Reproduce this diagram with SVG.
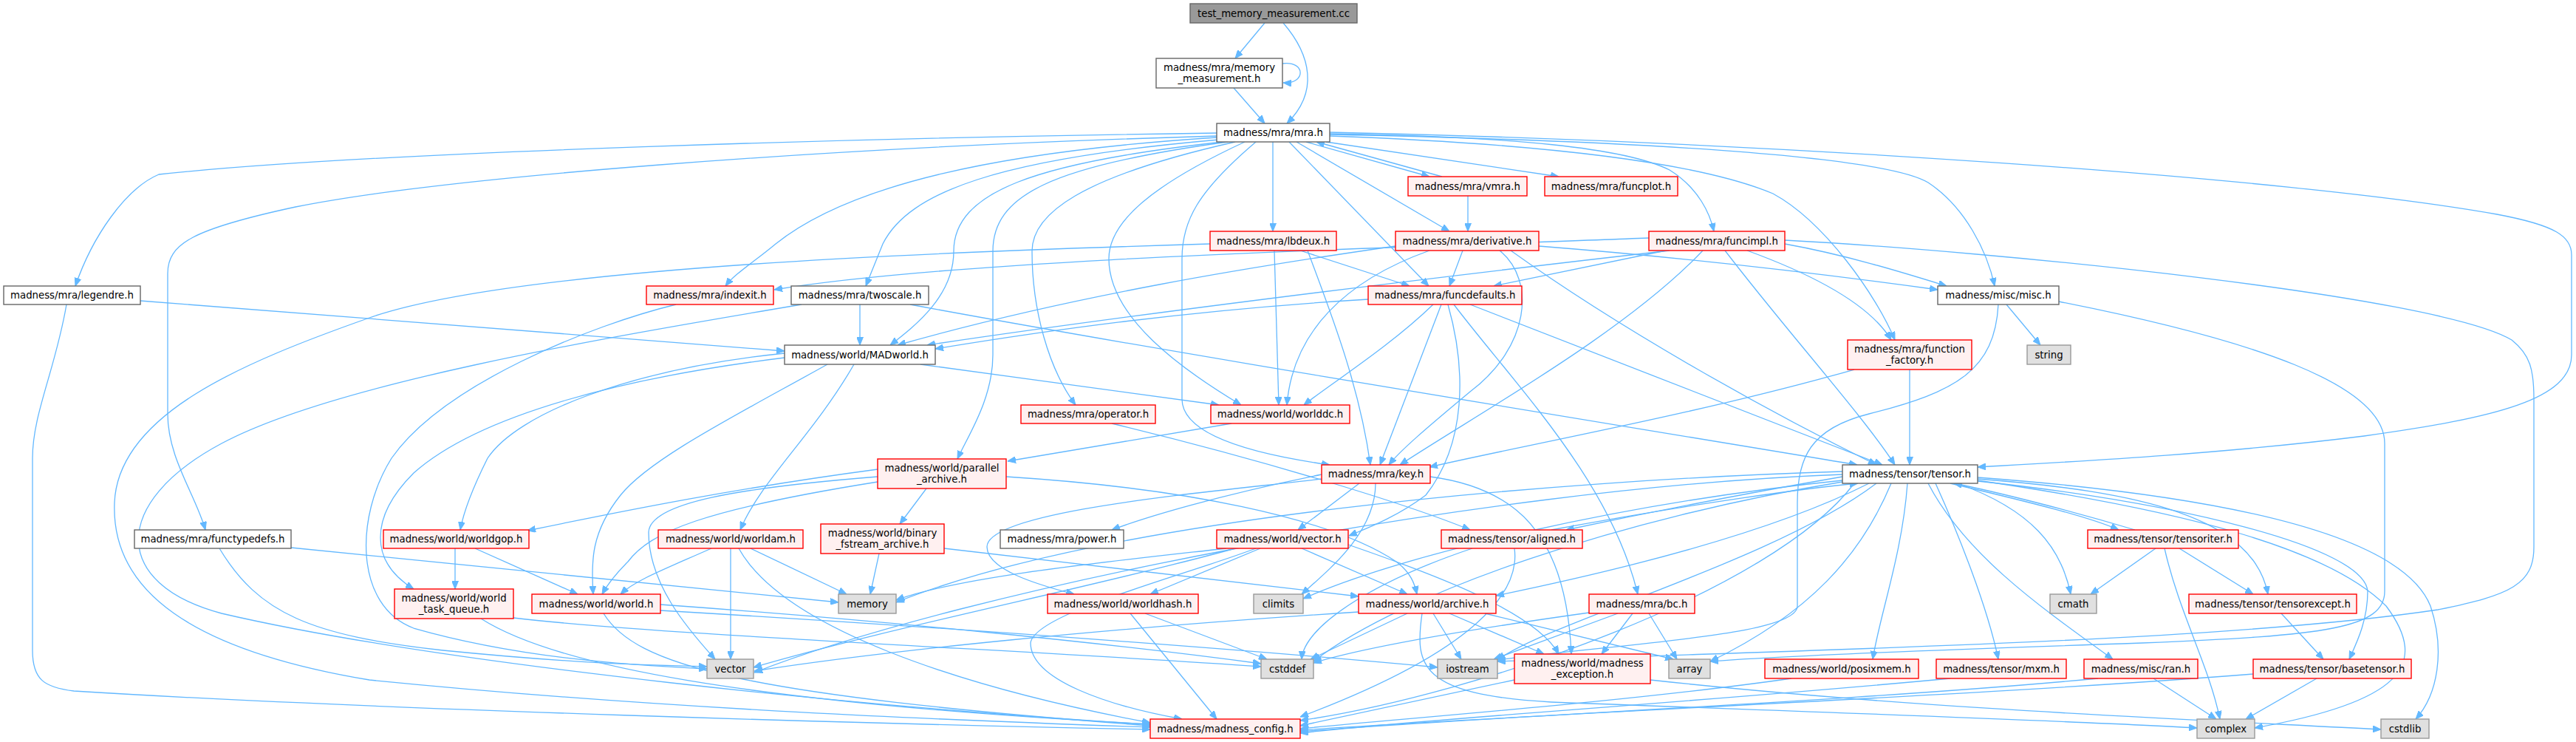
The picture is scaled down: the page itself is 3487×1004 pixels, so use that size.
<svg xmlns="http://www.w3.org/2000/svg" width="3487" height="1004" viewBox="0 0 3487 1004">
<style>
text{font-family:"DejaVu Sans","Liberation Sans",sans-serif;font-size:13.3px;fill:#000;text-anchor:middle}
.n{fill:#fff;stroke:#666;stroke-width:1.4}
.r{fill:#fff0f0;stroke:#f00;stroke-width:1.4}
.g{fill:#e0e0e0;stroke:#999;stroke-width:1.4}
.root{fill:#999;stroke:#666;stroke-width:1.4}
#edges path{fill:none;stroke:#63b8ff;stroke-width:1.3;marker-end:url(#a)}
</style>
<defs>
<marker id="a" markerWidth="11" markerHeight="9" refX="11" refY="4.5" orient="auto" markerUnits="userSpaceOnUse"><path d="M0,0 L11,4.5 L0,9 z" fill="#63b8ff" stroke="#63b8ff" stroke-width="1"/></marker>
</defs>
<rect x="0" y="0" width="3487" height="1004" fill="#fff"/>
<g id="edges">
<path d="M1712,31 L1672,79"/>
<path d="M1737,31 C1775,75 1785,125 1742,167"/>
<path d="M1736,86 C1768,82 1768,114 1737,112"/>
<path d="M1670,119 L1712,167"/>
<path d="M1647,180 C1200,186 500,205 215,236 C170,255 125,320 102,387"/>
<path d="M1647,184 C1100,200 600,240 400,280 C260,310 227,330 227,370 L227,560 C227,620 265,670 278,717"/>
<path d="M1647,186 C1350,205 1150,250 1050,330 C1020,355 995,370 982,387"/>
<path d="M1650,189 C1350,215 1230,260 1195,330 L1172,387"/>
<path d="M1655,192 C1400,220 1291,260 1291,340 C1291,400 1240,440 1205,467"/>
<path d="M1662,192 C1420,225 1344,265 1344,340 L1344,480 C1344,540 1310,590 1296,621"/>
<path d="M1672,192 C1460,240 1397,290 1397,340 C1397,420 1420,500 1456,548"/>
<path d="M1685,192 C1560,250 1501,300 1501,350 C1501,430 1600,500 1680,548"/>
<path d="M1700,192 C1620,260 1600,300 1600,350 L1600,540 C1600,590 1700,615 1800,629"/>
<path d="M1723,192 L1723,313"/>
<path d="M1745,192 L1934,387"/>
<path d="M1755,192 L1962,313"/>
<path d="M1768,192 L1935,239"/>
<path d="M1952,239 L1782,192"/>
<path d="M1795,192 L2110,239"/>
<path d="M1800,181 C2050,185 2200,200 2260,230 C2300,255 2315,290 2320,313"/>
<path d="M1800,184 C2100,195 2300,220 2400,262 C2470,300 2540,400 2565,460"/>
<path d="M1800,182 C2200,190 2550,210 2610,247 C2660,280 2690,340 2700,387"/>
<path d="M1800,179 C2400,192 3100,240 3380,290 C3460,305 3481,320 3481,345 L3481,480 C3481,540 3380,565 3200,590 C3000,615 2800,625 2677,632"/>
<path d="M1987,265 L1987,313"/>
<path d="M1638,330 C1300,340 700,360 500,430 C330,490 160,560 155,680 C150,800 260,880 500,920 C900,960 1300,975 1557,984"/>
<path d="M1760,339 L1908,387"/>
<path d="M1725,339 L1731,548"/>
<path d="M1770,339 C1800,420 1840,520 1855,629"/>
<path d="M1889,333 C1700,360 1450,400 1215,467"/>
<path d="M1980,339 L1962,387"/>
<path d="M1935,339 C1820,380 1750,450 1742,548"/>
<path d="M2030,339 C2080,380 2070,470 1990,530 C1930,580 1895,610 1880,629"/>
<path d="M2045,339 C2200,450 2400,560 2540,629"/>
<path d="M2083,333 C2300,350 2500,375 2623,392"/>
<path d="M2232,322 C1900,335 1300,350 1048,392"/>
<path d="M2260,339 C1900,380 1500,430 1255,467"/>
<path d="M2255,339 L2022,387"/>
<path d="M2305,339 C2200,450 2000,560 1895,629"/>
<path d="M2365,339 C2450,370 2530,410 2560,460"/>
<path d="M2335,339 C2420,450 2520,560 2565,629"/>
<path d="M2416,330 C2500,345 2580,370 2635,387"/>
<path d="M2416,325 C2700,340 3300,400 3400,460 C3425,480 3430,500 3430,540 L3430,740 C3430,790 3400,805 3300,825 C3000,870 2400,880 2027,895"/>
<path d="M2510,500 C2300,560 2050,605 1935,632"/>
<path d="M2585,500 L2585,629"/>
<path d="M2716,412 L2762,467"/>
<path d="M2705,412 C2700,500 2650,530 2530,560 C2450,580 2433,620 2433,680 L2433,820 C2433,860 2200,870 2027,893"/>
<path d="M2787,408 C3050,460 3228,520 3228,600 L3228,800 C3228,850 3150,860 2900,870 C2600,880 2400,888 2315,895"/>
<path d="M1852,405 C1600,420 1400,450 1266,472"/>
<path d="M1940,412 C1880,470 1800,520 1765,548"/>
<path d="M1951,412 L1868,629"/>
<path d="M1960,412 C1985,500 1985,600 1930,670 C1890,700 1850,715 1826,725"/>
<path d="M1968,412 C2050,520 2180,650 2217,804"/>
<path d="M1990,412 L2548,629"/>
<path d="M1164,412 L1164,467"/>
<path d="M1232,412 C1600,480 2100,560 2514,629"/>
<path d="M1085,412 C800,460 450,520 300,600 C150,680 150,790 300,830 C600,900 1200,960 1557,980"/>
<path d="M915,412 C800,440 600,520 530,620 C480,700 480,820 560,850 C700,890 850,900 957,905"/>
<path d="M1062,478 C850,500 700,560 660,620 C640,660 628,690 623,717"/>
<path d="M1062,484 C850,510 650,560 560,640 C500,700 500,760 560,797"/>
<path d="M1120,493 C1000,560 880,620 840,670 C800,720 800,760 803,804"/>
<path d="M1156,493 C1100,590 1030,650 1002,717"/>
<path d="M1246,493 L1650,548"/>
<path d="M190,407 L1062,475"/>
<path d="M90,412 C75,500 44,560 44,620 L44,880 C44,920 60,930 100,935 C500,960 1200,980 1557,987"/>
<path d="M394,741 L1135,815"/>
<path d="M297,742 C350,830 420,860 600,880 C800,900 900,900 957,902"/>
<path d="M1188,645 C1000,660 880,680 878,720 C878,790 930,850 968,892"/>
<path d="M1188,635 C1000,660 850,690 714,718"/>
<path d="M1188,652 C950,690 880,720 850,760 C830,780 820,795 815,804"/>
<path d="M1254,661 L1218,709"/>
<path d="M1362,645 C1600,660 1800,700 1890,760 C1910,775 1915,790 1918,804"/>
<path d="M1667,573 L1364,624"/>
<path d="M1505,573 C1700,620 1900,680 1990,717"/>
<path d="M1789,642 C1650,670 1550,700 1505,717"/>
<path d="M1789,648 C1650,665 1336,690 1336,740 C1336,770 1400,790 1454,804"/>
<path d="M1840,654 L1757,717"/>
<path d="M1862,654 C1862,720 1800,770 1762,804"/>
<path d="M1936,645 C2050,660 2120,720 2127,885"/>
<path d="M616,742 L616,797"/>
<path d="M643,742 L782,804"/>
<path d="M651,837 C750,900 1000,950 1557,980"/>
<path d="M695,836 C900,860 1400,880 1707,902"/>
<path d="M817,830 C860,900 1000,940 1557,982"/>
<path d="M894,818 C1200,840 1500,870 1707,898"/>
<path d="M894,826 C1300,850 1700,880 1946,903"/>
<path d="M1016,742 L1146,804"/>
<path d="M989,742 L989,892"/>
<path d="M963,742 C900,770 860,785 840,804"/>
<path d="M1000,742 C1060,850 1300,930 1557,978"/>
<path d="M1190,749 L1178,804"/>
<path d="M1278,742 L1839,807"/>
<path d="M1530,830 L1647,973"/>
<path d="M1550,830 L1715,892"/>
<path d="M1672,742 C1500,790 1200,850 1020,903"/>
<path d="M1660,742 C1500,760 1300,780 1213,812"/>
<path d="M1706,742 L1557,804"/>
<path d="M1762,742 L1905,804"/>
<path d="M1700,742 C1600,780 1400,830 1395,870 C1395,920 1500,955 1600,973"/>
<path d="M1825,737 C1950,780 2080,830 2110,885"/>
<path d="M2050,742 C2058,800 2000,880 1760,970"/>
<path d="M1993,742 C1850,790 1765,850 1762,892"/>
<path d="M2100,717 C2300,680 2450,660 2515,654"/>
<path d="M2494,645 C2350,670 2200,700 2120,717"/>
<path d="M1839,828 C1500,850 1200,880 1021,908"/>
<path d="M1905,830 L1774,892"/>
<path d="M1925,830 C1915,900 1920,940 2100,950 C2500,965 2800,975 2974,985"/>
<path d="M1940,830 L1978,892"/>
<path d="M1962,830 L2090,885"/>
<path d="M2010,830 L2265,892"/>
<path d="M2158,828 C2000,850 1850,875 1778,897"/>
<path d="M2190,830 L2022,892"/>
<path d="M2210,830 L2168,885"/>
<path d="M2232,830 L2270,892"/>
<path d="M2050,920 L1760,982"/>
<path d="M2234,920 C2600,960 3000,975 3223,987"/>
<path d="M2425,918 C2200,950 1900,972 1760,986"/>
<path d="M2640,654 C2750,680 2830,700 2868,717"/>
<path d="M2890,717 C2800,690 2700,665 2645,654"/>
<path d="M2650,654 C2750,690 2790,740 2803,804"/>
<path d="M2677,648 C2900,665 3050,700 3070,804"/>
<path d="M2677,651 C2950,680 3200,740 3205,800 C3205,840 3190,870 3180,892"/>
<path d="M2677,646 C3000,670 3250,720 3290,820 C3310,880 3300,940 3270,973"/>
<path d="M2677,650 C2950,690 3150,740 3230,820 C3290,900 3250,950 3052,985"/>
<path d="M2620,654 C2650,720 2690,820 2705,892"/>
<path d="M2610,654 C2660,750 2760,820 2860,892"/>
<path d="M2582,654 C2575,750 2545,830 2535,892"/>
<path d="M2560,654 C2520,750 2450,830 2315,895"/>
<path d="M2530,654 C2400,720 2200,770 2025,806"/>
<path d="M2510,654 C2400,800 2000,940 1760,975"/>
<path d="M2494,642 C2000,660 1300,800 1021,910"/>
<path d="M2494,638 C2100,650 1500,700 1213,815"/>
<path d="M2494,650 C2200,680 1900,750 1764,810"/>
<path d="M2494,652 C2200,700 1900,800 1778,895"/>
<path d="M2540,654 C2400,760 2100,840 2027,893"/>
<path d="M2918,742 L2830,804"/>
<path d="M2950,742 L3050,804"/>
<path d="M2930,742 C2950,830 2990,900 3005,973"/>
<path d="M3088,830 L3145,892"/>
<path d="M3136,918 L3040,973"/>
<path d="M3050,912 C2700,940 2100,965 1760,988"/>
<path d="M2915,918 L3000,973"/>
<path d="M2840,918 C2500,950 2000,970 1760,990"/>
<path d="M2640,918 C2300,950 1900,975 1760,992"/>
</g>
<g id="n_test"><rect class="root" x="1611" y="5" width="226" height="26"/><text x="1724" y="22.5">test_memory_measurement.cc</text></g>
<g id="n_memmeas"><rect class="n" x="1565" y="79" width="171" height="40"/><text x="1650.5" y="96">madness/mra/memory</text><text x="1650.5" y="111">_measurement.h</text></g>
<g id="n_mra"><rect class="n" x="1647" y="167" width="153" height="25"/><text x="1723.5" y="184">madness/mra/mra.h</text></g>
<g id="n_vmra"><rect class="r" x="1906" y="239" width="161" height="26"/><text x="1986.5" y="256.5">madness/mra/vmra.h</text></g>
<g id="n_funcplot"><rect class="r" x="2091" y="239" width="180" height="26"/><text x="2181" y="256.5">madness/mra/funcplot.h</text></g>
<g id="n_lbdeux"><rect class="r" x="1638" y="313" width="171" height="26"/><text x="1723.5" y="330.5">madness/mra/lbdeux.h</text></g>
<g id="n_derivative"><rect class="r" x="1889" y="313" width="194" height="26"/><text x="1986" y="330.5">madness/mra/derivative.h</text></g>
<g id="n_funcimpl"><rect class="r" x="2232" y="313" width="184" height="26"/><text x="2324" y="330.5">madness/mra/funcimpl.h</text></g>
<g id="n_legendre"><rect class="n" x="5" y="387" width="185" height="25"/><text x="97.5" y="404">madness/mra/legendre.h</text></g>
<g id="n_indexit"><rect class="r" x="875" y="387" width="172" height="25"/><text x="961" y="404">madness/mra/indexit.h</text></g>
<g id="n_twoscale"><rect class="n" x="1071" y="387" width="186" height="25"/><text x="1164" y="404">madness/mra/twoscale.h</text></g>
<g id="n_funcdefaults"><rect class="r" x="1852" y="387" width="208" height="25"/><text x="1956" y="404">madness/mra/funcdefaults.h</text></g>
<g id="n_misc"><rect class="n" x="2623" y="387" width="164" height="25"/><text x="2705" y="404">madness/misc/misc.h</text></g>
<g id="n_madworld"><rect class="n" x="1062" y="467" width="204" height="26"/><text x="1164" y="484.5">madness/world/MADworld.h</text></g>
<g id="n_string"><rect class="g" x="2744" y="467" width="59" height="26"/><text x="2773.5" y="484.5">string</text></g>
<g id="n_funcfactory"><rect class="r" x="2501" y="460" width="168" height="40"/><text x="2585" y="477">madness/mra/function</text><text x="2585" y="492">_factory.h</text></g>
<g id="n_operator"><rect class="r" x="1382" y="548" width="182" height="25"/><text x="1473" y="565">madness/mra/operator.h</text></g>
<g id="n_worlddc"><rect class="r" x="1639" y="548" width="188" height="25"/><text x="1733" y="565">madness/world/worlddc.h</text></g>
<g id="n_parallel"><rect class="r" x="1188" y="621" width="174" height="40"/><text x="1275" y="638">madness/world/parallel</text><text x="1275" y="653">_archive.h</text></g>
<g id="n_key"><rect class="r" x="1789" y="629" width="147" height="25"/><text x="1862.5" y="646">madness/mra/key.h</text></g>
<g id="n_tensor"><rect class="n" x="2494" y="629" width="183" height="25"/><text x="2585.5" y="646">madness/tensor/tensor.h</text></g>
<g id="n_functypedefs"><rect class="n" x="182" y="717" width="212" height="25"/><text x="288" y="734">madness/mra/functypedefs.h</text></g>
<g id="n_worldgop"><rect class="r" x="519" y="717" width="197" height="25"/><text x="617.5" y="734">madness/world/worldgop.h</text></g>
<g id="n_worldam"><rect class="r" x="891" y="717" width="196" height="25"/><text x="989" y="734">madness/world/worldam.h</text></g>
<g id="n_binary"><rect class="r" x="1111" y="709" width="167" height="40"/><text x="1194.5" y="726">madness/world/binary</text><text x="1194.5" y="741">_fstream_archive.h</text></g>
<g id="n_power"><rect class="n" x="1354" y="717" width="167" height="25"/><text x="1437.5" y="734">madness/mra/power.h</text></g>
<g id="n_vectorh"><rect class="r" x="1647" y="717" width="178" height="25"/><text x="1736" y="734">madness/world/vector.h</text></g>
<g id="n_aligned"><rect class="r" x="1951" y="717" width="191" height="25"/><text x="2046.5" y="734">madness/tensor/aligned.h</text></g>
<g id="n_tensoriter"><rect class="r" x="2826" y="717" width="204" height="25"/><text x="2928" y="734">madness/tensor/tensoriter.h</text></g>
<g id="n_taskq"><rect class="r" x="534" y="797" width="161" height="40"/><text x="614.5" y="814">madness/world/world</text><text x="614.5" y="829">_task_queue.h</text></g>
<g id="n_world"><rect class="r" x="720" y="804" width="174" height="26"/><text x="807" y="821.5">madness/world/world.h</text></g>
<g id="n_memory"><rect class="g" x="1135" y="804" width="78" height="26"/><text x="1174" y="821.5">memory</text></g>
<g id="n_worldhash"><rect class="r" x="1418" y="804" width="204" height="26"/><text x="1520" y="821.5">madness/world/worldhash.h</text></g>
<g id="n_climits"><rect class="g" x="1697" y="804" width="67" height="26"/><text x="1730.5" y="821.5">climits</text></g>
<g id="n_archive"><rect class="r" x="1839" y="804" width="186" height="26"/><text x="1932" y="821.5">madness/world/archive.h</text></g>
<g id="n_bc"><rect class="r" x="2151" y="804" width="143" height="26"/><text x="2222.5" y="821.5">madness/mra/bc.h</text></g>
<g id="n_cmath"><rect class="g" x="2775" y="804" width="63" height="26"/><text x="2806.5" y="821.5">cmath</text></g>
<g id="n_tensorexcept"><rect class="r" x="2963" y="804" width="227" height="26"/><text x="3076.5" y="821.5">madness/tensor/tensorexcept.h</text></g>
<g id="n_vector"><rect class="g" x="957" y="892" width="63" height="26"/><text x="988.5" y="909.5">vector</text></g>
<g id="n_cstddef"><rect class="g" x="1707" y="892" width="71" height="26"/><text x="1742.5" y="909.5">cstddef</text></g>
<g id="n_iostream"><rect class="g" x="1946" y="892" width="81" height="26"/><text x="1986.5" y="909.5">iostream</text></g>
<g id="n_exception"><rect class="r" x="2050" y="885" width="184" height="40"/><text x="2142" y="902">madness/world/madness</text><text x="2142" y="917">_exception.h</text></g>
<g id="n_array"><rect class="g" x="2259" y="892" width="56" height="26"/><text x="2287" y="909.5">array</text></g>
<g id="n_posixmem"><rect class="r" x="2389" y="892" width="208" height="26"/><text x="2493" y="909.5">madness/world/posixmem.h</text></g>
<g id="n_mxm"><rect class="r" x="2621" y="892" width="176" height="26"/><text x="2709" y="909.5">madness/tensor/mxm.h</text></g>
<g id="n_ran"><rect class="r" x="2821" y="892" width="154" height="26"/><text x="2898" y="909.5">madness/misc/ran.h</text></g>
<g id="n_basetensor"><rect class="r" x="3050" y="892" width="214" height="26"/><text x="3157" y="909.5">madness/tensor/basetensor.h</text></g>
<g id="n_config"><rect class="r" x="1557" y="973" width="203" height="26"/><text x="1658.5" y="990.5">madness/madness_config.h</text></g>
<g id="n_complex"><rect class="g" x="2974" y="973" width="78" height="26"/><text x="3013" y="990.5">complex</text></g>
<g id="n_cstdlib"><rect class="g" x="3223" y="973" width="65" height="26"/><text x="3255.5" y="990.5">cstdlib</text></g>
</svg>
